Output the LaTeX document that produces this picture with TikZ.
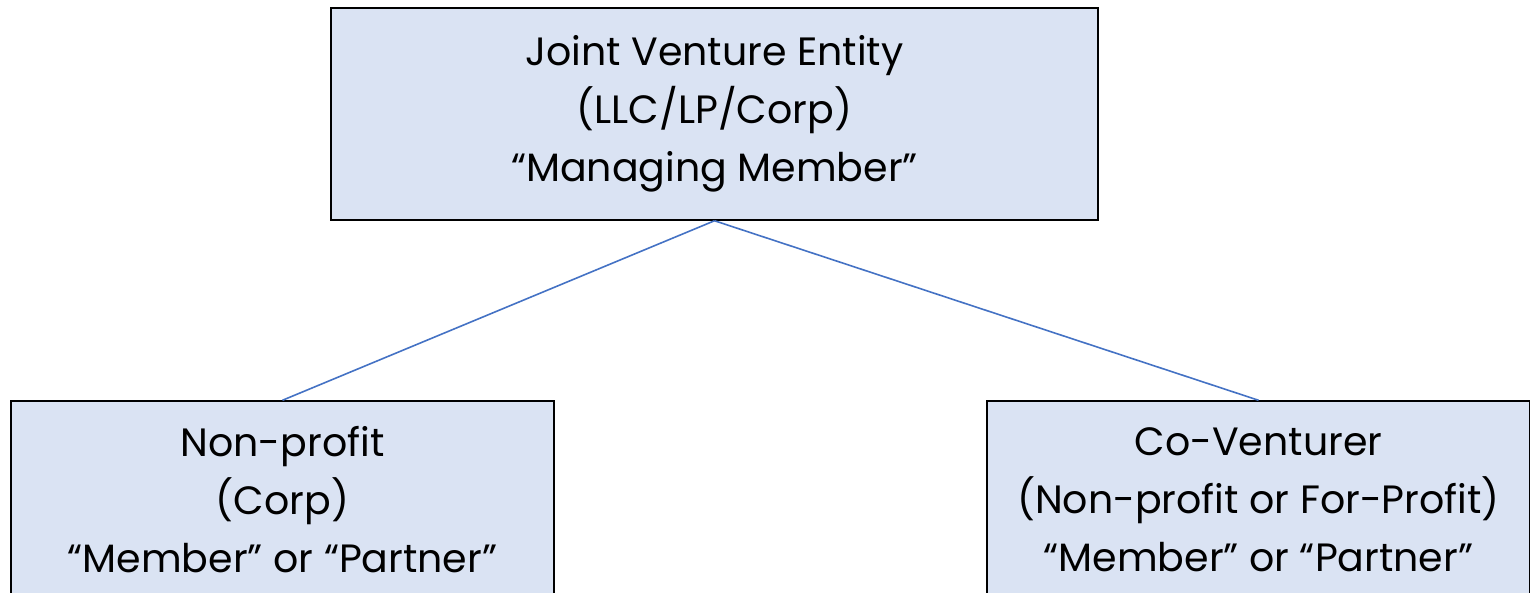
\documentclass[tikz,border=0pt]{standalone}
\usepackage{fontspec}
\setmainfont{Poppins}
\usepackage{tikz}

\definecolor{boxfill}{HTML}{DAE3F3}
\definecolor{linkblue}{HTML}{4472C4}

\begin{document}
\begin{tikzpicture}
			[x=1pt,y=-1pt,every node/.style={rectangle,draw=black,line width=1.5pt,fill=boxfill,align=center,font=\fontsize{39.5}{58}\selectfont}, edge/.style={-,draw=linkblue,line width=1.6pt}]
			\useasboundingbox (0,0) rectangle (1530,592);
			\node[minimum width=767pt,minimum height=212pt] (jv) at (714.5,114)  {Joint Venture Entity\\(LLC/LP/Corp)\\``Managing Member''};
			\node[minimum width=543pt,minimum height=198pt] (np) at (282.5,500)  {Non-profit\\(Corp)\\``Member'' or ``Partner''};
			\node[minimum width=543pt,minimum height=198pt] (cv) at (1258.5,500)  {Co-Venturer\\(Non-profit or For-Profit)\\``Member'' or ``Partner''};
			
			\foreach \from/\to in {jv/np,jv/cv}
			\draw[edge] (\from.south) to (\to.north);

			\end{tikzpicture}
\end{document}
